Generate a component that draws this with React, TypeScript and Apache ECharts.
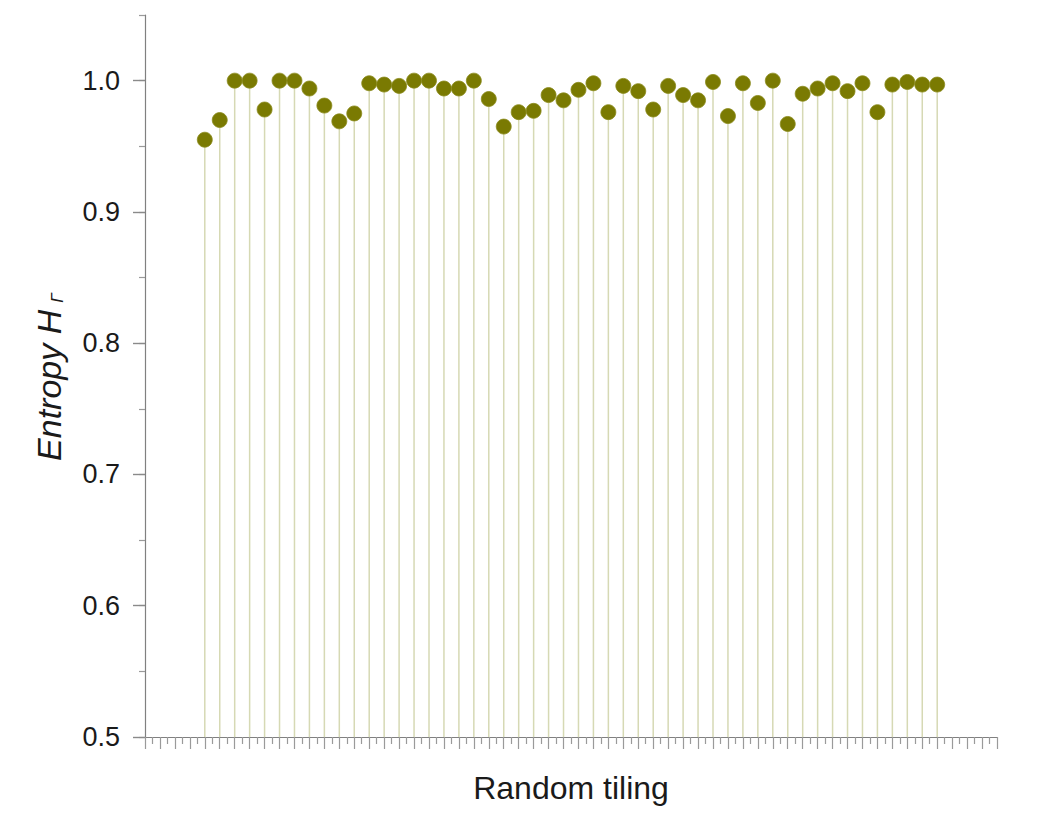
import React, { useEffect, useRef } from "react";
import * as echarts from "echarts";

// Entropy H_Γ of each random tiling
const entropyValues = [
  0.955, 0.970, 1.000, 1.000, 0.978, 1.000, 1.000, 0.994, 0.981, 0.969,
  0.975, 0.998, 0.997, 0.996, 1.000, 1.000, 0.994, 0.994, 1.000, 0.986,
  0.965, 0.976, 0.977, 0.989, 0.985, 0.993, 0.998, 0.976, 0.996, 0.992,
  0.978, 0.996, 0.989, 0.985, 0.999, 0.973, 0.998, 0.983, 1.000, 0.967,
  0.990, 0.994, 0.998, 0.992, 0.998, 0.976, 0.997, 0.999, 0.997, 0.997,
];
// position of the first tiling on the x scale
const firstTiling = 4;
const xMin = 0;
const xMax = 57;
const yMin = 0.5;
const yMax = 1.05;
const yLabelMax = 1.0;

export default function App() {
  const ref = useRef<HTMLDivElement>(null);
  useEffect(() => {
    if (!ref.current) return;
    const chart = echarts.init(ref.current, null, { renderer: "svg" });
    const pts = entropyValues.map((v, i) => [i + firstTiling, v]);
    const font = "'Liberation Sans', Arial, sans-serif";
    const gridTop = 15;
    const gridBottom = 87;
    const plotH = 824 - gridTop - gridBottom;
    // second grid whose top sits exactly at y = 1.0 of the main grid (major ticks + labels)
    const labelGridTop = gridTop + (plotH * (yMax - yLabelMax)) / (yMax - yMin);
    chart.setOption({
      animation: false,
      backgroundColor: "#ffffff",
      grid: [
        { left: 145, right: 43, top: gridTop, bottom: gridBottom },
        { left: 145, right: 43, top: labelGridTop, bottom: gridBottom },
      ],
      xAxis: [
        {
          type: "value",
          gridIndex: 0,
          min: xMin,
          max: xMax,
          interval: 1,
          name: "Random tiling",
          nameLocation: "middle",
          nameGap: 35,
          nameTextStyle: { fontSize: 32, color: "#1a1a1a", fontFamily: font },
          axisLine: { show: true, lineStyle: { color: "#808080", width: 1.2 } },
          axisTick: { show: true, length: 12, lineStyle: { color: "#9a9a9a", width: 1.2 } },
          minorTick: { show: true, splitNumber: 2, length: 7, lineStyle: { color: "#9a9a9a", width: 1.2 } },
          axisLabel: { show: false },
          splitLine: { show: false },
          minorSplitLine: { show: false },
        },
        {
          type: "value",
          gridIndex: 1,
          min: xMin,
          max: xMax,
          show: false,
        },
      ],
      yAxis: [
        {
          type: "value",
          gridIndex: 0,
          min: yMin,
          max: yMax,
          interval: 0.05,
          position: "left",
          axisLine: { show: true, lineStyle: { color: "#808080", width: 1.2 } },
          axisTick: { show: true, length: 6, lineStyle: { color: "#9a9a9a", width: 1.2 } },
          axisLabel: { show: false },
          splitLine: { show: false },
        },
        {
          type: "value",
          gridIndex: 1,
          min: yMin,
          max: yLabelMax,
          interval: 0.1,
          position: "left",
          axisLine: { show: true, lineStyle: { color: "rgba(0,0,0,0)", width: 0 } },
          axisTick: { show: true, inside: false, length: 12, lineStyle: { color: "#8a8a8a", width: 1.4 } },
          axisLabel: {
            show: true,
            margin: 25,
            fontSize: 27,
            color: "#1a1a1a",
            fontFamily: font,
            formatter: (v: number) => v.toFixed(1),
          },
          splitLine: { show: false },
        },
      ],
      graphic: [
        {
          type: "text",
          x: 49,
          y: 377,
          rotation: Math.PI / 2,
          style: {
            text: "{a|Entropy H}{b|Γ}",
            align: "center",
            verticalAlign: "middle",
            rich: {
              a: { fontSize: 34, fontStyle: "italic", fontFamily: font, fill: "#1a1a1a", color: "#1a1a1a" },
              b: {
                fontSize: 17,
                fontStyle: "italic",
                fontFamily: font,
                fill: "#1a1a1a",
                color: "#1a1a1a",
                verticalAlign: "bottom",
                padding: [0, 0, 0, 7],
              },
            },
          },
        },
      ],
      series: [
        {
          type: "bar",
          data: pts,
          barWidth: 1.5,
          xAxisIndex: 0,
          yAxisIndex: 0,
          itemStyle: { color: "#d6d9b4", opacity: 1 },
          silent: true,
          z: 1,
        },
        {
          type: "scatter",
          data: pts,
          xAxisIndex: 0,
          yAxisIndex: 0,
          symbol: "circle",
          symbolSize: 15,
          itemStyle: { color: "#7a7a02", borderColor: "#8a8a1c", borderWidth: 0.8, opacity: 1 },
          z: 3,
        },
      ],
    });
    return () => chart.dispose();
  }, []);
  return (
    <div
      ref={ref}
      style={{ position: "fixed", left: 0, top: 0, width: 1040, height: 824, background: "#fff" }}
    />
  );
}
